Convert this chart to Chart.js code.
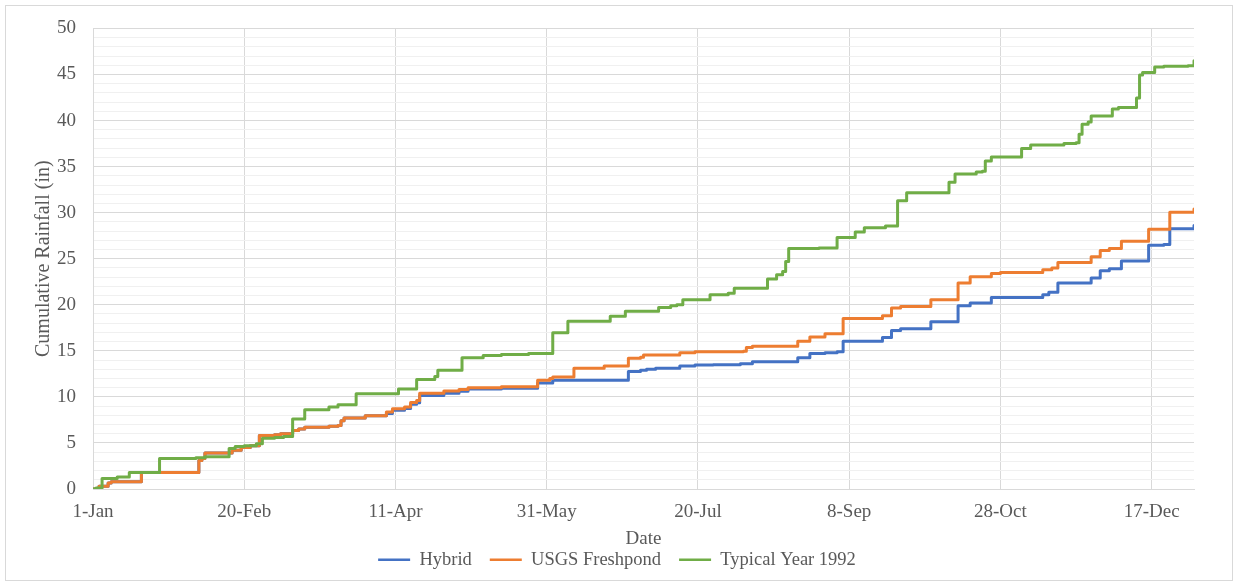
<!DOCTYPE html>
<html>
<head>
<meta charset="utf-8">
<script src="https://cdn.jsdelivr.net/npm/chart.js@4.4.1/dist/chart.umd.min.js"></script>
<style>
  html, body { margin: 0; padding: 0; background: #ffffff; }
  #frame { position: absolute; left: 5px; top: 5px; width: 1226px; height: 574px; border: 1px solid #d9d9d9; }
  #c { position: absolute; left: 0; top: 0; }
</style>
</head>
<body>
<div id="frame"></div>
<canvas id="c" width="1238" height="584"></canvas>
<script>
// Day-of-year (0 = 1-Jan) at which each cumulative total is reached
const hybridSteps = [[0,0],[2,0.3],[5,0.65],[6,0.8],[16,1.8],[35,3.1],[36,3.3],[37,3.9],[46,4.2],[49,4.5],[52,4.7],[55,5.8],[60,5.9],[62,6.0],[66,6.35],[68,6.5],[70,6.7],[78,6.8],[81,6.9],[82,7.4],[83,7.7],[90,7.95],[97,8.2],[99,8.55],[103,8.75],[105,9.2],[107,9.35],[108,10.15],[116,10.4],[121,10.6],[124,10.85],[135,10.95],[147,11.5],[152,11.8],[177,12.75],[181,12.9],[183,13.0],[186,13.1],[194,13.35],[199,13.45],[205,13.5],[214,13.6],[218,13.8],[233,14.25],[237,14.7],[242,14.8],[246,14.9],[248,16.05],[261,16.45],[264,17.2],[267,17.4],[277,18.15],[286,19.9],[290,20.2],[297,20.8],[314,21.1],[316,21.35],[319,22.35],[330,22.9],[333,23.7],[336,23.9],[340,24.75],[349,26.45],[354,26.55],[356,28.25],[364,28.6]];
const usgsSteps = [[0,0],[2,0.3],[5,0.65],[6,0.8],[16,1.8],[35,3.1],[36,3.3],[37,3.9],[46,4.2],[49,4.5],[52,4.7],[55,5.8],[60,5.9],[62,6.0],[66,6.35],[68,6.5],[70,6.7],[78,6.8],[81,6.9],[82,7.4],[83,7.7],[90,7.95],[97,8.35],[99,8.7],[103,8.9],[105,9.4],[107,9.6],[108,10.4],[116,10.65],[121,10.8],[124,11.0],[135,11.1],[147,11.8],[151,12.0],[152,12.15],[159,13.1],[169,13.35],[177,14.2],[181,14.3],[182,14.55],[194,14.8],[199,14.9],[215,14.95],[216,15.35],[218,15.5],[233,16.05],[237,16.5],[242,16.85],[248,18.5],[261,18.8],[264,19.65],[267,19.8],[277,20.55],[286,22.35],[290,23.05],[297,23.4],[300,23.5],[314,23.8],[317,24.0],[319,24.6],[330,25.2],[333,25.9],[336,26.1],[340,26.9],[349,28.2],[356,30.05],[364,30.4]];
const typicalSteps = [[0,0],[1,0.1],[3,1.15],[8,1.3],[12,1.8],[22,3.3],[34,3.4],[37,3.5],[45,4.4],[47,4.6],[50,4.7],[54,4.9],[56,5.5],[60,5.6],[63,5.7],[66,7.6],[70,8.6],[78,8.9],[81,9.15],[87,10.35],[101,10.85],[107,11.9],[113,12.2],[114,12.9],[122,14.25],[129,14.5],[135,14.6],[144,14.7],[152,16.95],[157,18.2],[171,18.75],[176,19.3],[187,19.7],[191,19.9],[193,20.0],[195,20.55],[204,21.1],[210,21.25],[212,21.8],[223,22.8],[226,23.25],[228,23.6],[229,24.7],[230,26.1],[240,26.15],[246,27.3],[252,27.9],[255,28.35],[262,28.55],[266,31.3],[269,32.15],[283,33.3],[285,34.2],[292,34.4],[294,34.5],[295,35.6],[297,36.05],[307,36.95],[310,37.35],[321,37.5],[325,37.6],[326,38.5],[327,39.6],[329,39.85],[330,40.5],[337,41.25],[339,41.4],[345,42.45],[346,44.95],[347,45.2],[351,45.8],[354,45.9],[362,45.95],[364,46.5]];

const seriesNames = ['Hybrid', 'USGS Freshpond', 'Typical Year 1992'];
const seriesColors = ['#4472C4', '#ED7D31', '#70AD47'];
const dateTicks = ['1-Jan', '20-Feb', '11-Apr', '31-May', '20-Jul', '8-Sep', '28-Oct', '17-Dec'];
const tickEveryDays = 50;
const lastDay = 364;

const FONT = "'Liberation Serif', 'Times New Roman', serif";
const TEXT = '#595959';

const toPoints = steps => steps.map(([d, v]) => ({ x: d, y: v }));
const allSteps = [hybridSteps, usgsSteps, typicalSteps];

const datasets = allSteps.map((steps, i) => ({
  label: seriesNames[i],
  data: toPoints(steps),
  borderColor: seriesColors[i],
  backgroundColor: seriesColors[i],
  borderWidth: 3,
  pointRadius: 0,
  pointHoverRadius: 0,
  stepped: 'before',
  fill: false,
  borderJoinStyle: 'round',
  borderCapStyle: 'round',
  order: 2 - i
}));

new Chart(document.getElementById('c'), {
  type: 'line',
  data: { datasets },
  options: {
    responsive: false,
    animation: false,
    devicePixelRatio: 1,
    layout: { padding: { left: 40, right: 44, top: 25, bottom: 5 } },
    plugins: {
      tooltip: { enabled: false },
      title: { display: false },
      legend: {
        position: 'bottom',
        labels: {
          boxWidth: 32,
          boxHeight: 2.5,
          padding: 18,
          color: TEXT,
          font: { family: FONT, size: 18.5 },
          generateLabels: chart => chart.data.datasets.map((ds, i) => ({
            text: ds.label,
            fillStyle: ds.borderColor,
            strokeStyle: ds.borderColor,
            lineWidth: 0,
            hidden: false,
            datasetIndex: i,
            fontColor: TEXT
          }))
        }
      }
    },
    scales: {
      x: {
        type: 'linear',
        min: 0,
        max: lastDay,
        afterFit: s => { s.height = 43.5; },
        grid: { color: '#d9d9d9', lineWidth: 1, drawTicks: false },
        border: { display: true, color: '#d9d9d9' },
        ticks: {
          stepSize: tickEveryDays,
          includeBounds: false,
          autoSkip: false,
          maxRotation: 0,
          padding: 12,
          color: TEXT,
          font: { family: FONT, size: 19 },
          callback: v => dateTicks[Math.round(v / tickEveryDays)] ?? ''
        },
        title: {
          display: true,
          text: 'Date',
          color: TEXT,
          font: { family: FONT, size: 19 },
          padding: { top: 0, bottom: -17.9 }
        }
      },
      y: {
        min: 0,
        max: 50,
        afterFit: s => { s.width = 53; },
        grid: {
          drawTicks: false,
          lineWidth: 1,
          color: c => (c.tick && c.tick.value % 5 === 0) ? '#d9d9d9' : '#f0f0f0'
        },
        border: { display: true, color: '#d9d9d9' },
        ticks: {
          stepSize: 1,
          autoSkip: false,
          padding: 17,
          color: TEXT,
          font: { family: FONT, size: 19 },
          callback: v => (v % 5 === 0 ? String(v) : '')
        },
        title: {
          display: true,
          text: 'Cumulative Rainfall (in)',
          color: TEXT,
          font: { family: FONT, size: 20 },
          padding: { top: -8, bottom: 0 }
        }
      }
    }
  }
});
</script>
</body>
</html>
